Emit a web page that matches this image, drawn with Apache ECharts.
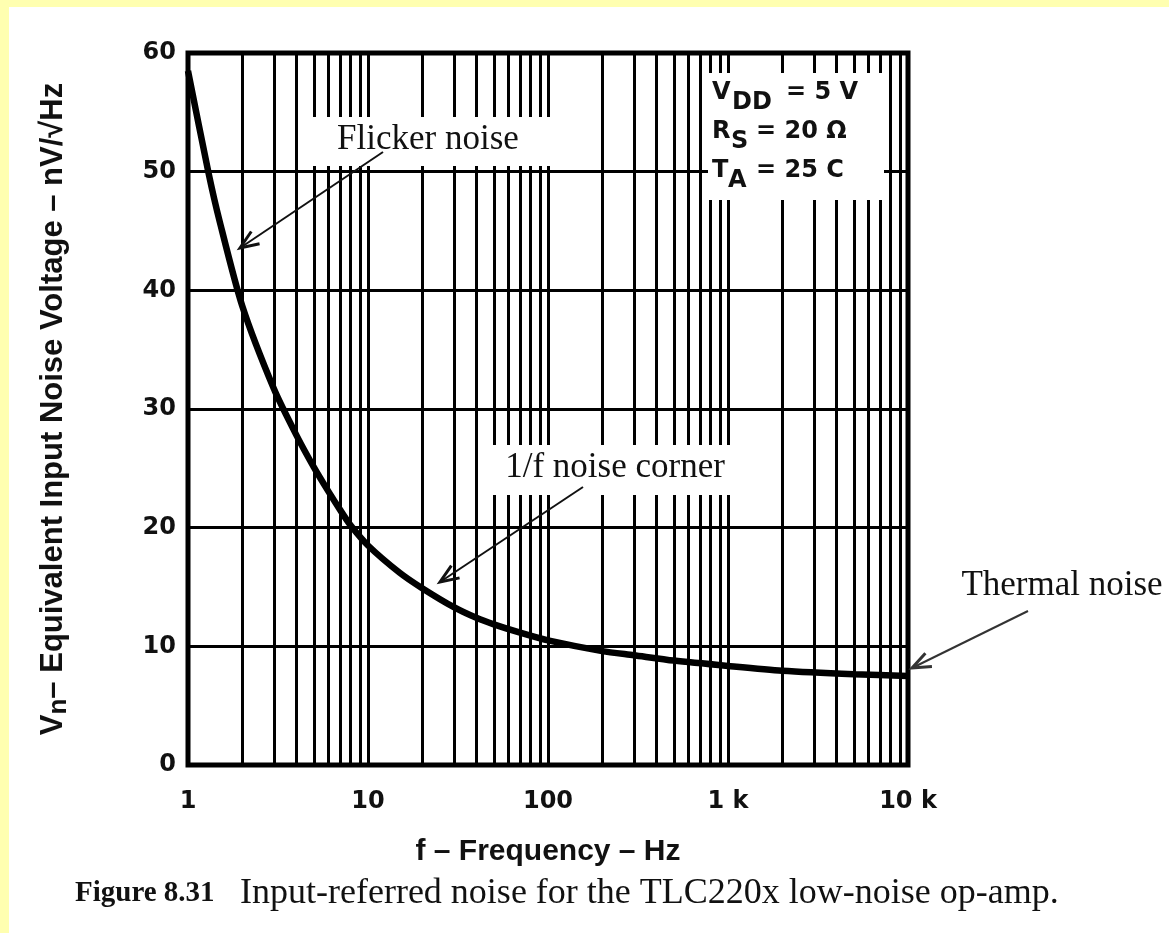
<!DOCTYPE html>
<html>
<head>
<meta charset="utf-8">
<script src="https://cdn.jsdelivr.net/npm/echarts@6/dist/echarts.min.js"></script>
<style>
html,body{margin:0;padding:0;background:#fff;}
#chart{width:1169px;height:933px;}
</style>
</head>
<body>
<div id="chart"></div>
<script>
// noise curve (Hz, nV/rtHz)
var freq  = [1, 1.3, 1.5, 2, 3, 4, 5, 6, 7, 8, 10, 15, 20, 30, 40, 50, 70, 100, 200, 300, 500, 1000, 2000, 5000, 10000];
var noise = [58.5, 49.9, 45.8, 38.7, 31.7, 27.8, 25.1, 23.1, 21.5, 20.2, 18.5, 16.2, 14.9, 13.3, 12.4, 11.85, 11.15, 10.5, 9.6, 9.25, 8.8, 8.35, 7.95, 7.65, 7.5];
var xTickLabels = {0:'1', 1:'10', 2:'100', 3:'1 k', 4:'10 k'};
var decades = [1, 10, 100, 1000];
var gridMult = [2, 3, 4, 5, 6, 7, 8, 9, 10];

var curve = [];
for (var i = 0; i < freq.length; i++) curve.push([freq[i], noise[i]]);

var vLines = [];
decades.forEach(function(d){
  gridMult.forEach(function(m){
    if (d * m < 10000) vLines.push({xAxis: d * m});
  });
});

var sansB = '"DejaVu Sans", sans-serif';
var arial = '"Liberation Sans", Arial, sans-serif';
var serif = '"Liberation Serif", "Times New Roman", serif';

function arrow(x1, y1, x2, y2, color){
  var a = Math.atan2(y2 - y1, x2 - x1), L = 20, s = 0.38;
  return [
    {type:'line', z:60, shape:{x1:x1, y1:y1, x2:x2, y2:y2}, style:{stroke:color, lineWidth:2}},
    {type:'polyline', z:60, shape:{points:[
      [x2 - L*Math.cos(a - s), y2 - L*Math.sin(a - s)], [x2, y2],
      [x2 - L*Math.cos(a + s), y2 - L*Math.sin(a + s)]]},
      style:{stroke:color, lineWidth:3, fill:null}}
  ];
}

function txt(x, y, s, font, align){
  return {type:'text', z:61, x:x, y:y, style:{text:s, font:font, fill:'#111',
    align:align||'left', textAlign:align||'left', verticalAlign:'middle', textVerticalAlign:'middle'}};
}

var boxFont = 'bold 24px ' + sansB;
var graphics = [
  {type:'rect', z:50, shape:{x:0, y:0, width:1169, height:7}, style:{fill:'#ffffb0'}},
  {type:'rect', z:50, shape:{x:0, y:0, width:9, height:933}, style:{fill:'#ffffb0'}},
  // label boxes that blank out the grid
  {type:'rect', z:50, shape:{x:298, y:117, width:254, height:49}, style:{fill:'#fff'}},
  {type:'rect', z:50, shape:{x:492, y:445, width:243, height:50}, style:{fill:'#fff'}},
  {type:'rect', z:50, shape:{x:708, y:73, width:176, height:127}, style:{fill:'#fff'}},
  txt(428, 140, 'Flicker noise', '35px ' + serif, 'center'),
  txt(615, 468, '1/f noise corner', '35px ' + serif, 'center'),
  txt(1062, 586, 'Thermal noise', '35px ' + serif, 'center'),
  txt(712, 93, 'V', boxFont), txt(732, 103, 'DD', boxFont), txt(786, 93, '= 5 V', boxFont),
  txt(712, 132, 'R', boxFont), txt(731, 142, 'S', boxFont), txt(756, 132, '= 20 \u03a9', boxFont),
  txt(712, 171, 'T', boxFont), txt(728, 181, 'A', boxFont), txt(756, 171, '= 25 C', boxFont),
  txt(75, 894, 'Figure 8.31', 'bold 29px ' + serif),
  txt(240, 894, 'Input-referred noise for the TLC220x low-noise op-amp.', '36px ' + serif)
].concat(arrow(383, 152, 240, 248, '#111'))
 .concat(arrow(583, 487, 440, 582, '#111'))
 .concat(arrow(1028, 611, 912, 668, '#333'));

var chart = echarts.init(document.getElementById('chart'), null, {renderer:'canvas'});
chart.setOption({
  backgroundColor:'#fff',
  animation:false,
  grid:{left:188, top:53, right:261, bottom:168, show:true, borderColor:'#000', borderWidth:5, backgroundColor:'#fff'},
  xAxis:{
    type:'log', logBase:10, min:1, max:10000, splitNumber:4,
    axisLine:{show:false}, axisTick:{show:false}, splitLine:{show:false},
    axisLabel:{margin:25, fontFamily:sansB, fontWeight:'bold', fontSize:24, color:'#111',
      formatter:function(v){ return xTickLabels[Math.round(Math.log10(v))]; }},
    name:'f \u2013 Frequency \u2013 Hz', nameLocation:'middle', nameGap:72,
    nameTextStyle:{fontFamily:arial, fontWeight:'bold', fontSize:30, color:'#111'}
  },
  yAxis:{
    type:'value', min:0, max:60, interval:10,
    axisLine:{show:false}, axisTick:{show:false},
    splitLine:{lineStyle:{color:'#000', width:3}},
    axisLabel:{margin:12, fontFamily:sansB, fontWeight:'bold', fontSize:24, color:'#111'},
    name:'{b|V}{s|n}{b|\u2013 Equivalent Input Noise Voltage \u2013 nV/\u221aHz}',
    nameLocation:'middle', nameGap:116, nameRotate:90,
    nameTextStyle:{rich:{
      b:{fontFamily:arial, fontWeight:'bold', fontSize:31, color:'#111', lineHeight:38},
      s:{fontFamily:arial, fontWeight:'bold', fontSize:26, color:'#111', lineHeight:22, verticalAlign:'bottom'}
    }}
  },
  series:[{
    type:'line', data:curve, smooth:0.25, showSymbol:false, z:5,
    lineStyle:{color:'#000', width:6.5},
    markLine:{silent:true, symbol:['none','none'], label:{show:false}, animation:false,
      lineStyle:{color:'#000', width:3, type:'solid'}, data:vLines}
  }],
  graphic:graphics
});
</script>
</body>
</html>
